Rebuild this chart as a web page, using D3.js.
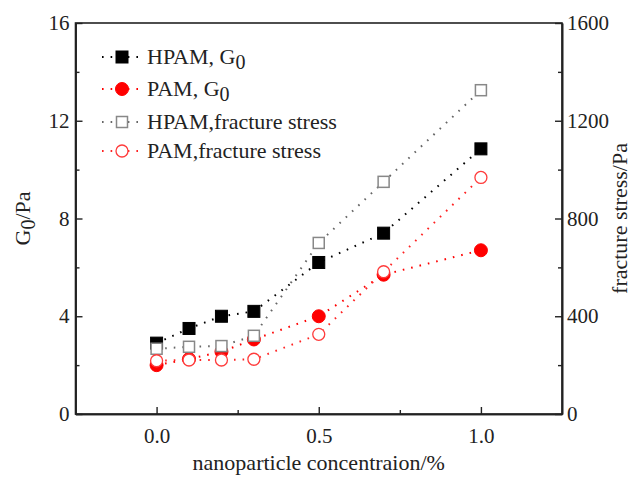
<!DOCTYPE html>
<html><head><meta charset="utf-8">
<script src="https://cdn.jsdelivr.net/npm/d3@7"></script>
<style>
html,body{margin:0;padding:0;background:#fff;}
svg text{font-family:"Liberation Serif","Times New Roman",serif;fill:#222;}
</style></head>
<body>
<svg id="c" width="636" height="477"></svg>
<script>
const concentration = [0, 0.1, 0.2, 0.3, 0.5, 0.7, 1.0];
const hpamG0 = [2.9, 3.5, 4.0, 4.2, 6.2, 7.4, 10.85];
const pamG0 = [2.0, 2.25, 2.55, 3.05, 4.0, 5.7, 6.7];
const hpamStress = [267, 275, 278, 320, 700, 950, 1325];
const pamStress = [218, 221, 221, 224, 326, 582, 968];
const xTicks = [0, 0.5, 1.0];
const xMinor = [0.25, 0.75];
const leftTicks = [0, 4, 8, 12, 16];
const leftMinor = [2, 6, 10, 14];
const rightTicks = [0, 400, 800, 1200, 1600];
const rightMinor = [200, 600, 1000, 1400];
const legendLabels = [["HPAM, G", "0"], ["PAM, G", "0"], ["HPAM,fracture stress", ""], ["PAM,fracture stress", ""]];

const L = 75.5, R = 562, T = 23, B = 414;
const FONT = '"Liberation Serif","Times New Roman",serif';
const svg = d3.select("#c");
const x = d3.scaleLinear().domain([-0.25, 1.25]).range([L, R]);
const yL = d3.scaleLinear().domain([0, 16]).range([B, T]);
const yR = d3.scaleLinear().domain([0, 1600]).range([B, T]);

const axisColor = "#222";
svg.append("rect").attr("x", L).attr("y", T).attr("width", R - L).attr("height", B - T)
  .attr("fill", "none").attr("stroke", axisColor).attr("stroke-width", 1.6);

const gx = svg.append("g").attr("transform", `translate(0,${B})`)
  .call(d3.axisBottom(x).tickValues(xTicks).tickFormat(d3.format(".1f")).tickSizeInner(-7).tickSizeOuter(0).tickPadding(0));
gx.selectAll(".tick text").attr("y", 0).attr("dy", 0).attr("transform", "translate(0,29)");
svg.append("g").attr("transform", `translate(0,${B})`)
  .call(d3.axisBottom(x).tickValues(xMinor).tickFormat("").tickSizeInner(-4).tickSizeOuter(0));

const gl = svg.append("g").attr("transform", `translate(${L},0)`)
  .call(d3.axisLeft(yL).tickValues(leftTicks).tickFormat(d3.format("d")).tickSizeInner(-7).tickSizeOuter(0).tickPadding(6));
svg.append("g").attr("transform", `translate(${L},0)`)
  .call(d3.axisLeft(yL).tickValues(leftMinor).tickFormat("").tickSizeInner(-4).tickSizeOuter(0));

const gr = svg.append("g").attr("transform", `translate(${R},0)`)
  .call(d3.axisRight(yR).tickValues(rightTicks).tickFormat(d3.format("d")).tickSizeInner(-7).tickSizeOuter(0).tickPadding(5));
svg.append("g").attr("transform", `translate(${R},0)`)
  .call(d3.axisRight(yR).tickValues(rightMinor).tickFormat("").tickSizeInner(-4).tickSizeOuter(0));

svg.selectAll("g").attr("font-family", FONT);
svg.selectAll(".domain").attr("stroke", axisColor).attr("stroke-width", 1.6);
svg.selectAll(".tick line").attr("stroke", axisColor).attr("stroke-width", 1.4);
svg.selectAll(".tick text").attr("fill", "#222").style("font-family", FONT).attr("font-size", 21);

svg.append("text").attr("x", (L + R) / 2).attr("y", 470).attr("text-anchor", "middle")
  .attr("font-size", 22).text("nanoparticle concentraion/%");
const lt = svg.append("text").attr("transform", `translate(30,${(T + B) / 2}) rotate(-90)`)
  .attr("text-anchor", "middle").attr("font-size", 22);
lt.append("tspan").text("G");
lt.append("tspan").attr("dy", 5).attr("font-size", 20).text("0");
lt.append("tspan").attr("dy", -5).text("/Pa");
svg.append("text").attr("transform", `translate(627,${(T + B) / 2}) rotate(-90)`)
  .attr("text-anchor", "middle").attr("font-size", 22).text("fracture stress/Pa");

const series = [
  {vals: hpamG0, y: yL, color: "#000", shape: "square", filled: true, stroke: "#000"},
  {vals: pamG0, y: yL, color: "#f00", shape: "circle", filled: true, stroke: "#f00"},
  {vals: hpamStress, y: yR, color: "#666", shape: "square", filled: false, stroke: "#888"},
  {vals: pamStress, y: yR, color: "#f22", shape: "circle", filled: false, stroke: "#ff3b3b"}
];

function marker(g, s, cx, cy) {
  if (s.shape === "square") {
    const sz = s.filled ? 12 : 11;
    g.append("rect").attr("x", cx - sz / 2).attr("y", cy - sz / 2).attr("width", sz).attr("height", sz)
      .attr("fill", s.filled ? s.color : "#fff").attr("stroke", s.stroke).attr("stroke-width", s.filled ? 1 : 1.5);
  } else {
    g.append("circle").attr("cx", cx).attr("cy", cy).attr("r", s.filled ? 6.5 : 6)
      .attr("fill", s.filled ? s.color : "#fff").attr("stroke", s.stroke).attr("stroke-width", s.filled ? 1 : 1.3);
  }
}

series.forEach(s => {
  const g = svg.append("g");
  const line = d3.line().x((d, i) => x(concentration[i])).y(d => s.y(d));
  g.append("path").datum(s.vals).attr("d", line).attr("fill", "none")
    .attr("stroke", s.color).attr("stroke-width", 2).attr("stroke-dasharray", "1.6,7");
  s.vals.forEach((v, i) => marker(g, s, x(concentration[i]), s.y(v)));
});

const legY = [57, 89, 122, 151];
series.forEach((s, i) => {
  const g = svg.append("g");
  const cy = legY[i];
  g.append("line").attr("x1", 102).attr("x2", 140).attr("y1", cy).attr("y2", cy)
    .attr("stroke", s.color).attr("stroke-width", 2).attr("stroke-dasharray", "1.6,7");
  marker(g, s, 122, cy);
  const t = g.append("text").attr("x", 147).attr("y", cy + 7).attr("font-size", 22);
  t.append("tspan").text(legendLabels[i][0]);
  if (legendLabels[i][1]) t.append("tspan").attr("dy", 5).attr("font-size", 20).text(legendLabels[i][1]);
});
</script>
</body></html>
